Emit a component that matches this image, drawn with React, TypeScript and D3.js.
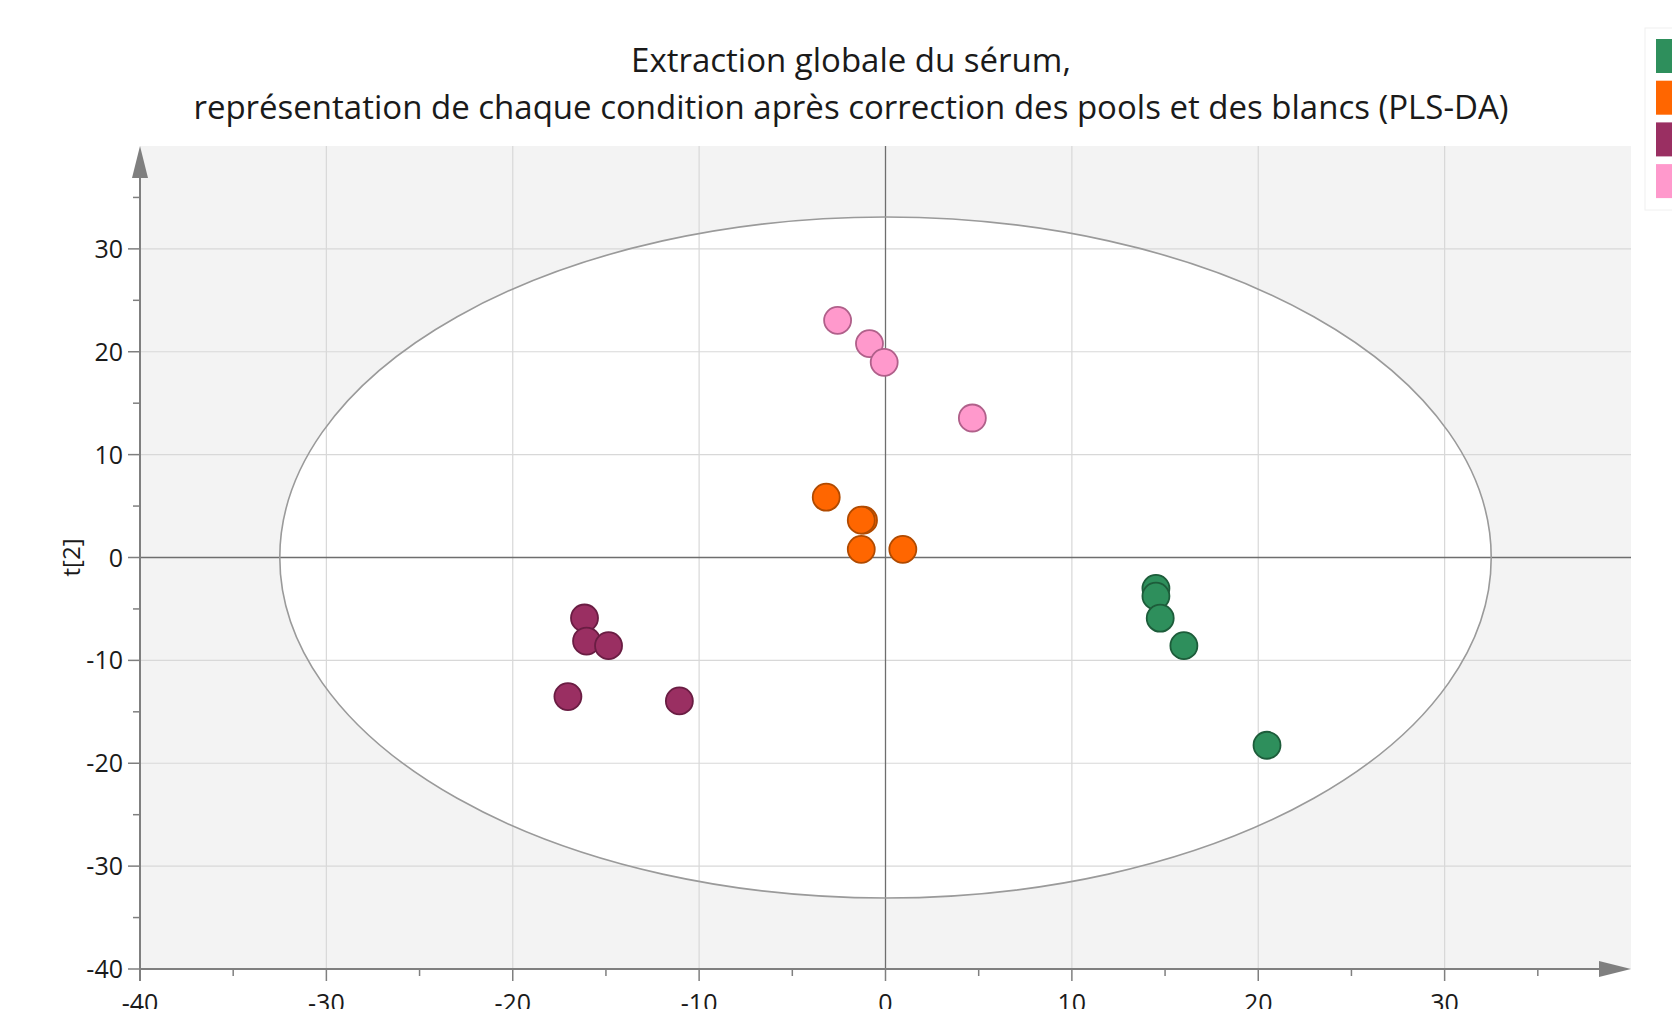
import React from "react";
import * as d3 from "d3";

const groupNames = ["G1", "G2", "G3", "G4"];
const groupColors = ["#2e8f5c", "#ff6600", "#9a2f62", "#ff99cc"];
const groupStrokes = ["#1d5c3a", "#b04a00", "#6a1d43", "#b0608a"];

const greenX = [14.51, 14.51, 14.74, 16.01, 20.47];
const greenY = [-3.0, -3.75, -5.9, -8.57, -18.25];
const orangeX = [-3.18, -1.18, -1.3, -1.3, 0.93];
const orangeY = [5.86, 3.63, 3.63, 0.79, 0.79];
const purpleX = [-16.15, -16.04, -14.86, -17.04, -11.06];
const purpleY = [-5.88, -8.12, -8.57, -13.52, -13.94];
const pinkX = [-2.57, -0.86, -0.07, 4.66];
const pinkY = [23.05, 20.79, 18.97, 13.56];

const seriesX = [greenX, orangeX, purpleX, pinkX];
const seriesY = [greenY, orangeY, purpleY, pinkY];

const xTicks = [-40, -30, -20, -10, 0, 10, 20, 30];
const yTicks = [-40, -30, -20, -10, 0, 10, 20, 30];
const xMinor = [-35, -25, -15, -5, 5, 15, 25, 35];
const yMinor = [-35, -25, -15, -5, 5, 15, 25, 35];
const ellipseRx = 32.5;
const ellipseRy = 33.1;

const titleLines = [
  "Extraction globale du sérum,",
  "représentation de chaque condition après correction des pools et des blancs (PLS-DA)",
];

const W = 1672;
const H = 1009;
const FONT = "'Open Sans', 'Noto Sans', sans-serif";

export default function App() {
  const left = 140;
  const right = 1631;
  const top = 146;
  const bottom = 969;
  const x = d3.scaleLinear().domain([-40, 40]).range([left, right]);
  const y = d3.scaleLinear().domain([-40, 40]).range([bottom, top]);
  const axisColor = "#7f7f7f";
  const gridColor = "#d8d8d8";

  return (
    <svg
      width={W}
      height={H}
      style={{ position: "absolute", left: 0, top: 0, background: "#fff" }}
      fontFamily={FONT}
    >
      {/* title */}
      <text x={851} y={72} textAnchor="middle" fontSize={33} fill="#1a1a1a">
        {titleLines[0]}
      </text>
      <text x={851} y={119} textAnchor="middle" fontSize={33} fill="#1a1a1a">
        {titleLines[1]}
      </text>

      {/* plot background */}
      <rect x={left} y={top} width={right - left} height={bottom - top} fill="#f3f3f3" />
      {/* ellipse fill */}
      <ellipse
        cx={x(0)}
        cy={y(0)}
        rx={x(ellipseRx) - x(0)}
        ry={y(0) - y(ellipseRy)}
        fill="#ffffff"
      />
      {/* grid */}
      {xTicks.filter((t) => t !== 0 && t !== -40).map((t) => (
        <line key={"gx" + t} x1={x(t)} x2={x(t)} y1={top} y2={bottom} stroke={gridColor} strokeWidth={1.2} />
      ))}
      {yTicks.filter((t) => t !== 0 && t !== -40).map((t) => (
        <line key={"gy" + t} x1={left} x2={right} y1={y(t)} y2={y(t)} stroke={gridColor} strokeWidth={1.2} />
      ))}
      {/* zero lines */}
      <line x1={x(0)} x2={x(0)} y1={top} y2={bottom} stroke="#6e6e6e" strokeWidth={1.3} />
      <line x1={left} x2={right} y1={y(0)} y2={y(0)} stroke="#6e6e6e" strokeWidth={1.3} />
      {/* ellipse stroke */}
      <ellipse
        cx={x(0)}
        cy={y(0)}
        rx={x(ellipseRx) - x(0)}
        ry={y(0) - y(ellipseRy)}
        fill="none"
        stroke="#9a9a9a"
        strokeWidth={1.6}
      />

      {/* axes */}
      <line x1={left} x2={right - 20} y1={bottom} y2={bottom} stroke={axisColor} strokeWidth={2} />
      <line x1={left} x2={left} y1={bottom + 12} y2={top + 20} stroke={axisColor} strokeWidth={2} />
      <path d={`M${right},${bottom} L${right - 32},${bottom - 8} L${right - 32},${bottom + 8} Z`} fill={axisColor} />
      <path d={`M${left},${top} L${left - 8},${top + 32} L${left + 8},${top + 32} Z`} fill={axisColor} />

      {/* x ticks */}
      {xTicks.map((t) => (
        <g key={"xt" + t}>
          <line x1={x(t)} x2={x(t)} y1={bottom} y2={bottom + 12} stroke={axisColor} strokeWidth={1.5} />
          <text x={x(t)} y={1012} textAnchor="middle" fontSize={25} fill="#1a1a1a">
            {t < 0 ? "-" + Math.abs(t) : String(t)}
          </text>
        </g>
      ))}
      {xMinor.map((t) => (
        <line key={"xm" + t} x1={x(t)} x2={x(t)} y1={bottom} y2={bottom + 7} stroke={axisColor} strokeWidth={1.5} />
      ))}
      {/* y ticks */}
      {yTicks.map((t) => (
        <g key={"yt" + t}>
          <line x1={left - 12} x2={left} y1={y(t)} y2={y(t)} stroke={axisColor} strokeWidth={1.5} />
          <text x={123} y={y(t) + 9} textAnchor="end" fontSize={25} fill="#1a1a1a">
            {t < 0 ? "-" + Math.abs(t) : String(t)}
          </text>
        </g>
      ))}
      {yMinor.map((t) => (
        <line key={"ym" + t} x1={left - 7} x2={left} y1={y(t)} y2={y(t)} stroke={axisColor} strokeWidth={1.5} />
      ))}
      <text
        transform={`translate(80, ${y(0)}) rotate(-90)`}
        textAnchor="middle"
        fontSize={24}
        fill="#1a1a1a"
      >
        t[2]
      </text>

      {/* points */}
      {seriesX.map((xs, gi) =>
        xs.map((xv, i) => (
          <circle
            key={"p" + gi + "-" + i}
            cx={x(xv)}
            cy={y(seriesY[gi][i])}
            r={13.5}
            fill={groupColors[gi]}
            stroke={groupStrokes[gi]}
            strokeWidth={1.8}
          />
        ))
      )}

      {/* legend (cut off at right edge) */}
      <rect x={1645} y={28} width={40} height={182} fill="#ffffff" stroke="#f0f0f0" />
      {groupNames.map((g, i) => (
        <rect key={g} x={1656} y={39 + i * 41.7} width={34} height={34} fill={groupColors[i]} />
      ))}
    </svg>
  );
}
